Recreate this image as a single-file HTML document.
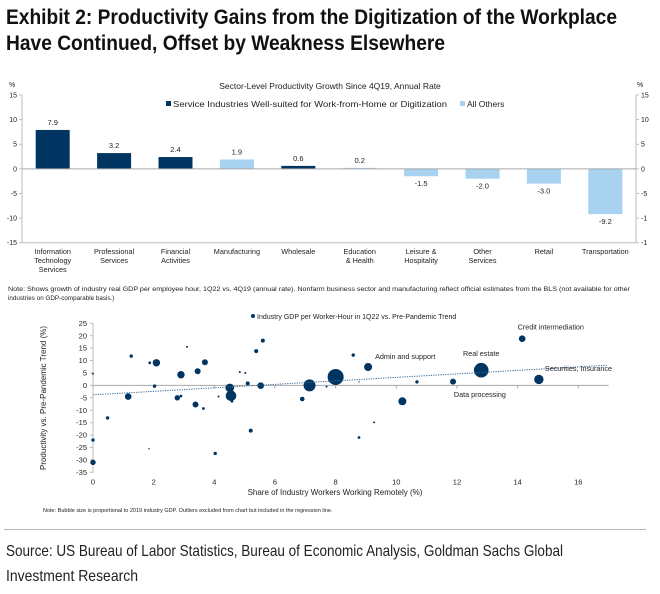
<!DOCTYPE html>
<html><head><meta charset="utf-8"><style>
html,body{margin:0;padding:0;background:#fff;}
svg{display:block;font-family:"Liberation Sans",Arial,sans-serif;}
</style></head><body>
<svg id="root" width="660" height="594" viewBox="0 0 660 594" xmlns="http://www.w3.org/2000/svg">
<text x="6" y="24" font-size="21" font-weight="bold" fill="#111" textLength="611" lengthAdjust="spacingAndGlyphs">Exhibit 2: Productivity Gains from the Digitization of the Workplace</text>
<text x="6" y="50" font-size="21" font-weight="bold" fill="#111" textLength="439" lengthAdjust="spacingAndGlyphs">Have Continued, Offset by Weakness Elsewhere</text>

<g id="bar">
<text x="330" y="89" font-size="8.5" text-anchor="middle" fill="#222">Sector-Level Productivity Growth Since 4Q19, Annual Rate</text>
<rect x="166" y="101" width="5" height="5" fill="#003561"/>
<text x="173" y="107" font-size="8.5" fill="#222" textLength="274" lengthAdjust="spacingAndGlyphs">Service Industries Well-suited for Work-from-Home or Digitization</text>
<rect x="460" y="101" width="5" height="5" fill="#a9d1f0"/>
<text x="467" y="107" font-size="8.5" fill="#222">All Others</text>
<text x="9" y="87" font-size="7" fill="#222">%</text>
<text x="637" y="87" font-size="7" fill="#222">%</text>
<text x="8" y="291" font-size="6.3" fill="#222" textLength="622" lengthAdjust="spacingAndGlyphs">Note: Shows growth of industry real GDP per employee hour, 1Q22 vs. 4Q19  (annual rate). Nonfarm business sector and manufacturing reflect official estimates from the BLS (not available for other</text>
<text x="8" y="300" font-size="6.3" fill="#222">industries on GDP-comparable basis.)</text>
</g>

<g id="sc">
<circle cx="253" cy="316" r="2" fill="#003561"/>
<text x="257" y="319" font-size="7" fill="#222">Industry GDP per Worker-Hour in 1Q22 vs. Pre-Pandemic Trend</text>
<text transform="translate(46,398) rotate(-90)" font-size="8" text-anchor="middle" fill="#222">Productivity vs. Pre-Pandemic Trend (%)</text>
<text x="335" y="495" font-size="8" text-anchor="middle" fill="#222">Share of Industry Workers Working Remotely (%)</text>
<text x="43" y="512" font-size="5.5" fill="#222">Note: Bubble size is proportional to 2019 industry GDP. Outliers excluded from chart but included in the regression line.</text>
</g>

<line x1="4" y1="529.5" x2="646" y2="529.5" stroke="#b5b5b5" stroke-width="1"/>
<text x="6" y="556" font-size="16" fill="#222" textLength="557" lengthAdjust="spacingAndGlyphs">Source: US Bureau of Labor Statistics, Bureau of Economic Analysis, Goldman Sachs Global</text>
<text x="6" y="581" font-size="16" fill="#222" textLength="132" lengthAdjust="spacingAndGlyphs">Investment Research</text>
</svg>
<script>
// ---- Bar chart data ----
const barCategories = [["Information","Technology","Services"],["Professional","Services"],["Financial","Activities"],["Manufacturing"],["Wholesale"],["Education","& Health"],["Leisure &","Hospitality"],["Other","Services"],["Retail"],["Transportation"]];
const barValues = [7.9, 3.2, 2.4, 1.9, 0.6, 0.2, -1.5, -2.0, -3.0, -9.2];
const barLabels = ["7.9","3.2","2.4","1.9","0.6","0.2","-1.5","-2.0","-3.0","-9.2"];
const barGroup = ["service","service","service","other","service","other","other","other","other","other"];
const barTicks = [15, 10, 5, 0, -5, -10, -15];
const barTickLabels = ["15","10","5","0","-5","-10","-15"];

// ---- Scatter data ----
const scX = [0,0,0,0.48,1.26,1.16,1.87,2.09,2.03,1.85,2.78,2.9,2.9,3.1,3.45,3.69,3.38,3.64,4.03,4.14,4.51,4.55,4.58,4.84,5.02,5.1,5.2,5.38,5.6,5.53,6.9,7.14,7.7,8.0,8.58,8.77,9.07,9.27,8.77,10.2,10.68,11.87,12.8,14.15,14.7];
const scY = [4.7,-22,-31,-13.1,11.8,-4.5,9.1,9.1,-0.3,-25.5,-5,-4.3,4.3,15.5,5.7,9.3,-7.7,-9.3,-27.4,-4.5,-1,-4.2,-6.4,5.4,5,0.8,-18.2,13.8,18,-0.1,-5.5,0,-0.5,3.4,12.2,1.4,7.4,-14.9,-21,-6.4,1.4,1.5,6.1,18.8,2.4];
const scSize = [1,1.7,2.7,1.7,1.7,3.3,1.4,3.7,1.7,0.7,2.7,1.4,3.7,1,3,3,3,1.4,1.7,1,4.3,5.3,1.4,1,1,2,2,2,2,3.3,2.3,6,1,8,1.7,0.7,4,1,1.4,4,1.7,3,7.3,3.3,4.7];
const scXTicks = [0,2,4,6,8,10,12,14,16];
const scYTicks = [25,20,15,10,5,0,-5,-10,-15,-20,-25,-30,-35];
const trendStart = [0, -3.8];
const trendEnd = [16.94, 8.1];
const scAnnotations = ["Credit intermediation","Admin and support","Real estate","Securities, Insurance","Data processing"];
const scAnnX = [14.0, 9.3, 12.2, 14.9, 11.9];
const scAnnY = [22.6, 10.6, 11.8, 5.8, -4.6];

const NS = "http://www.w3.org/2000/svg";
function mk(parent, tag, attrs, text){
  const e = document.createElementNS(NS, tag);
  for (const k in attrs) e.setAttribute(k, attrs[k]);
  if (text !== undefined) e.textContent = text;
  parent.appendChild(e);
  return e;
}
const bL = 22, bR = 636, bTop = 95, bBot = 242.7;
const by = v => bTop + (15 - v) / 30 * (bBot - bTop);
const slot = (bR - bL) / barValues.length;
const bx = i => bL + slot * (i + 0.5);
const bar = document.getElementById('bar');

let ax = mk(bar, 'line', {x1:bL, y1:bTop, x2:bL, y2:bBot, stroke:'#bdbdbd', 'stroke-width':1});


ax = mk(bar, 'line', {x1:bR, y1:bTop, x2:bR, y2:bBot, stroke:'#bdbdbd', 'stroke-width':1});


ax = mk(bar, 'line', {x1:bL, y1:bBot, x2:bR, y2:bBot, stroke:'#bdbdbd', 'stroke-width':1});



barTicks.forEach((t, i) => {
  const y = by(t);
  let l = mk(bar, 'line', {x1:bL-3, y1:y, x2:bL, y2:y, stroke:'#bdbdbd'});
  
  
  l = mk(bar, 'line', {x1:bR, y1:y, x2:bR+3, y2:y, stroke:'#bdbdbd'});
  
  
  let tx = mk(bar, 'text', {x:bL-5, y:y+2.5, 'font-size':7, 'text-anchor':'end', fill:'#222'}, barTickLabels[i]);
  
  
  tx = mk(bar, 'text', {x:bR+5, y:y+2.5, 'font-size':7, fill:'#222'}, barTickLabels[i].length > 2 ? barTickLabels[i].slice(0,2) : barTickLabels[i]);
  
  
});

barValues.forEach((v, i) => {
  const cx = bx(i), w = 34;
  const y0 = by(0), y1 = by(v);
  const r = mk(bar, 'rect', {x:cx-w/2, y:Math.min(y0,y1), width:w, height:Math.max(Math.abs(y1-y0),0.8), fill: barGroup[i]==='service' ? '#003561' : '#a9d1f0'});
  
  
  const ly = v >= 0 ? y1 - 5 : y1 + 10;
  const t = mk(bar, 'text', {x:cx, y:ly, 'font-size':7.5, 'text-anchor':'middle', fill:'#222'}, barLabels[i]);
  
  
  barCategories[i].forEach((s, k) => {
    const c = mk(bar, 'text', {x:cx, y:254 + k*9, 'font-size':7.3, 'text-anchor':'middle', fill:'#222'}, s);
    
    
  });
});
ax = mk(bar, 'line', {x1:bL, y1:by(0), x2:bR, y2:by(0), stroke:'#a8a8a8', 'stroke-width':1});



const sc = document.getElementById('sc');
const sL = 93, sXmax = 17, sPx = 30.33;
const sx = v => sL + v * sPx;
const sTop = 323.3, sBot = 472.3;
const sy = v => sTop + (25 - v) / 60 * (sBot - sTop);

ax = mk(sc, 'line', {x1:sL, y1:sTop, x2:sL, y2:sBot, stroke:'#bdbdbd'});


scYTicks.forEach(t => {
  const y = sy(t);
  const l = mk(sc, 'line', {x1:sL-3, y1:y, x2:sL, y2:y, stroke:'#bdbdbd'});
  
  
  const tx = mk(sc, 'text', {x:sL-6, y:y+2.6, 'font-size':7.5, 'text-anchor':'end', fill:'#222'}, String(t));
  
  
});
scXTicks.forEach(t => {
  const x = sx(t);
  const l = mk(sc, 'line', {x1:x, y1:sy(0), x2:x, y2:sy(0)+3, stroke:'#a8a8a8'});
  
  
  const tx = mk(sc, 'text', {x:x, y:484.5, 'font-size':7.5, 'text-anchor':'middle', fill:'#222'}, String(t));
  
  
});
ax = mk(sc, 'line', {x1:sL, y1:sy(0), x2:sx(sXmax), y2:sy(0), stroke:'#a8a8a8'});



scX.forEach((x, i) => {
  const c = mk(sc, 'circle', {cx:sx(x), cy:sy(scY[i]), r:scSize[i], fill:'#003561'});
  
  
});
const tl = mk(sc, 'line', {x1:sx(trendStart[0]), y1:sy(trendStart[1]), x2:sx(trendEnd[0]), y2:sy(trendEnd[1]), stroke:'#3a6690', 'stroke-width':1, 'stroke-dasharray':'1.2,1.2'});


scAnnotations.forEach((s, i) => {
  const t = mk(sc, 'text', {x:sx(scAnnX[i]), y:sy(scAnnY[i]), 'font-size':7.2, fill:'#222'}, s);
  
  
});
</script>
</body></html>
